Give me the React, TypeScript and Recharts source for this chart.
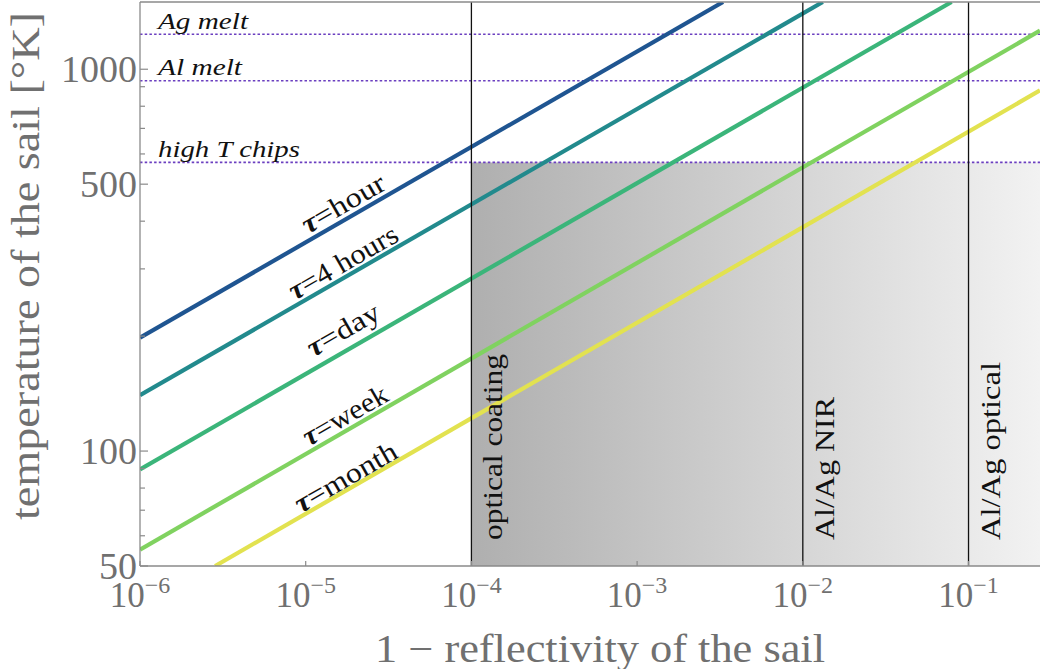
import React from 'react';
import {
  ComposedChart,
  Line,
  XAxis,
  YAxis,
  ReferenceLine,
  ReferenceArea,
  ReferenceDot,
} from 'recharts';

// ---------- data ----------
const xDomain = [1e-6, 0.27];
const yDomain = [50, 1500];

const xTicks = [1e-6, 1e-5, 1e-4, 1e-3, 1e-2, 1e-1];
const xTickExponents = ['−6', '−5', '−4', '−3', '−2', '−1'];
const yTicks = [50, 60, 70, 80, 90, 100, 200, 300, 400, 500, 600, 700, 800, 900, 1000];
const yTickLabels = [50, 100, 500, 1000];

// temperature lines: points where each line enters / leaves the frame
const hourLine = [{ x: 1e-6, T: 198 }, { x: 3.3e-3, T: 1500 }];
const fourHoursLine = [{ x: 1e-6, T: 140 }, { x: 1.32e-2, T: 1500 }];
const dayLine = [{ x: 1e-6, T: 89.5 }, { x: 7.9e-2, T: 1500 }];
const weekLine = [{ x: 1e-6, T: 55.2 }, { x: 0.27, T: 1262 }];
const monthLine = [{ x: 2.84e-6, T: 50 }, { x: 0.27, T: 880 }];

// horizontal thresholds (K)
const thresholdNames = ['Ag melt', 'Al melt', 'high T chips'];
const thresholdValues = [1235, 933, 570];

// vertical material limits (1 - reflectivity)
const materialNames = ['optical coating', 'Al/Ag NIR', 'Al/Ag optical'];
const materialValues = [1e-4, 1e-2, 1e-1];

// line label anchors (data coordinates of text centres)
const lineLabelNames = ['hour', '4 hours', 'day', 'week', 'month'];
const lineLabelX = [1.69e-5, 1.69e-5, 1.69e-5, 1.735e-5, 1.75e-5];
const lineLabelT = [443, 310.5, 207, 123.5, 85];

// ---------- styles ----------
const FONT = "'Liberation Serif', 'Times New Roman', serif";
const GRAY_TEXT = '#707070';
const FRAME = '#8a8a8a';
const DOT_COLOR = '#6b3fc0';
const lineColors = ['#1f5591', '#228a8d', '#3bb57a', '#80d260', '#e2e250'];
const lineLabelLen = [92, 122, 80, 94, 114];
const thresholdLen = [90, 84, 142];
const materialLen = [186, 143, 178];

const YTick = (props: any) => {
  const { x, y, payload } = props;
  const v = payload.value;
  const major = yTickLabels.includes(v);
  return (
    <g>
      <line x1={x} x2={x + (major ? 8 : 5)} y1={y} y2={y} stroke={FRAME} strokeWidth={1.2} />
      {major && (
        <text
          x={x - 3}
          y={y}
          dy="0.34em"
          textAnchor="end"
          fontFamily={FONT}
          fontSize={38}
          fill={GRAY_TEXT}
        >
          {v}
        </text>
      )}
    </g>
  );
};

const XTick = (props: any) => {
  const { x, y, payload } = props;
  const i = xTicks.indexOf(payload.value);
  return (
    <g>
      <line x1={x} x2={x} y1={y} y2={y - 5} stroke={FRAME} strokeWidth={1.2} />
      <text x={x} y={y + 41} textAnchor="middle" fontFamily={FONT} fill={GRAY_TEXT}>
        <tspan fontSize={35}>10</tspan>
        <tspan fontSize={24} dy={-14}>
          {xTickExponents[i]}
        </tspan>
      </text>
    </g>
  );
};

const series = [hourLine, fourHoursLine, dayLine, weekLine, monthLine];

export default function App() {
  return (
    <div style={{ position: 'absolute', left: 0, top: 0, background: '#fff' }}>
      <ComposedChart width={1040} height={669} margin={{ top: 2, right: 0, bottom: 0, left: 0 }}>
        <defs>
          <linearGradient id="shade" x1="0" y1="0" x2="1" y2="0">
            <stop offset="0%" stopColor="#afafaf" />
            <stop offset="100%" stopColor="#f2f2f2" />
          </linearGradient>
        </defs>
        <XAxis
          dataKey="x"
          type="number"
          scale="log"
          domain={xDomain}
          allowDataOverflow
          ticks={xTicks}
          interval={0}
          tick={XTick}
          tickLine={false}
          tickSize={0}
          tickMargin={0}
          axisLine={{ stroke: FRAME, strokeWidth: 1.3 }}
          height={103}
          label={() => (
            <text
              x={600}
              y={662}
              textAnchor="middle"
              fontFamily={FONT}
              fontSize={40}
              fill={GRAY_TEXT}
              textLength={450}
              lengthAdjust="spacingAndGlyphs"
            >
              1 − reflectivity of the sail
            </text>
          )}
        />
        <YAxis
          type="number"
          scale="log"
          domain={yDomain}
          allowDataOverflow
          ticks={yTicks}
          interval={0}
          tick={YTick}
          tickLine={false}
          tickSize={0}
          tickMargin={0}
          axisLine={{ stroke: FRAME, strokeWidth: 1.3 }}
          width={140}
          label={() => (
            <text
              transform="translate(39,266) rotate(-90)"
              textAnchor="middle"
              fontFamily={FONT}
              fontSize={40}
              fill={GRAY_TEXT}
              textLength={508}
              lengthAdjust="spacingAndGlyphs"
            >
              temperature of the sail [°K]
            </text>
          )}
        />
        <ReferenceArea
          x1={materialValues[0]}
          x2={xDomain[1]}
          y1={yDomain[0]}
          y2={thresholdValues[2]}
          fill="url(#shade)"
          fillOpacity={1}
          stroke="none"
        />
        {thresholdValues.map((t, i) => (
          <ReferenceLine
            key={'th' + i}
            y={t}
            stroke={DOT_COLOR}
            strokeWidth={1.7}
            strokeDasharray="2.5 2.2"
          />
        ))}
        {series.map((d, i) => (
          <Line
            key={'s' + i}
            data={d}
            dataKey="T"
            type="linear"
            stroke={lineColors[i]}
            strokeWidth={4.2}
            dot={false}
            activeDot={false}
            isAnimationActive={false}
          />
        ))}
        {materialValues.map((m, i) => (
          <ReferenceLine key={'m' + i} x={m} stroke="#111" strokeWidth={1.3} />
        ))}
        <ReferenceLine y={yDomain[1]} stroke={FRAME} strokeWidth={1.3} />
        {thresholdValues.map((t, i) => (
          <ReferenceDot
            key={'tl' + i}
            x={xDomain[0]}
            y={t}
            r={0}
            ifOverflow="visible"
            shape={(p: any) => (
              <text
                x={p.cx + 18}
                y={p.cy - 5.5}
                fontFamily={FONT}
                fontStyle="italic"
                fontSize={24}
                fill="#111"
                textLength={thresholdLen[i]}
                lengthAdjust="spacingAndGlyphs"
              >
                {thresholdNames[i]}
              </text>
            )}
          />
        ))}
        {materialValues.map((m, i) => (
          <ReferenceDot
            key={'ml' + i}
            x={m}
            y={yDomain[0]}
            r={0}
            ifOverflow="visible"
            shape={(p: any) => (
              <text
                transform={`translate(${p.cx + 31},${p.cy - 26}) rotate(-90)`}
                fontFamily={FONT}
                fontSize={28}
                fill="#111"
                textLength={materialLen[i]}
                lengthAdjust="spacingAndGlyphs"
              >
                {materialNames[i]}
              </text>
            )}
          />
        ))}
        {lineLabelNames.map((n, i) => (
          <ReferenceDot
            key={'ll' + i}
            x={lineLabelX[i]}
            y={lineLabelT[i]}
            r={0}
            ifOverflow="visible"
            shape={(p: any) => (
              <text
                transform={`translate(${p.cx},${p.cy}) rotate(-29.9)`}
                textAnchor="middle"
                dy="0.3em"
                fontFamily={FONT}
                fontSize={28}
                fill="#111"
                textLength={lineLabelLen[i]}
                lengthAdjust="spacingAndGlyphs"
              >
                <tspan fontWeight="bold" fontStyle="italic">τ</tspan>
                <tspan>={n}</tspan>
              </text>
            )}
          />
        ))}
      </ComposedChart>
    </div>
  );
}
